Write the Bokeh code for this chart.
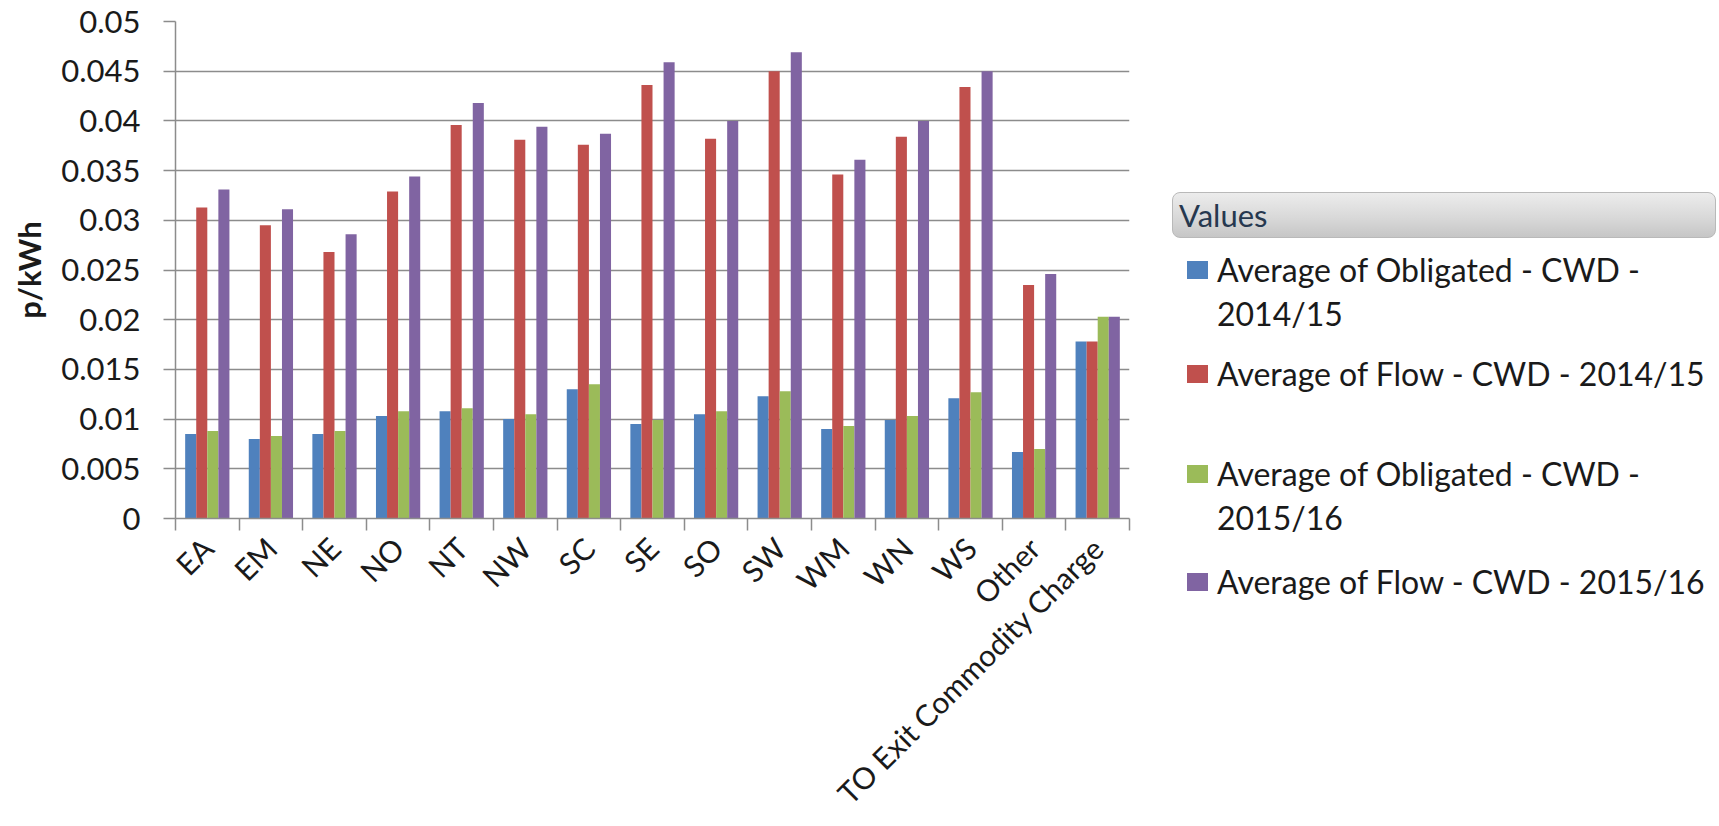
import numpy as np
from bokeh.plotting import figure
from bokeh.models import Range1d, FixedTicker, ColumnDataSource, Div
from bokeh.layouts import row
from bokeh.transform import dodge
from bokeh.embed import file_html
from bokeh.resources import INLINE

# ---- data -------------------------------------------------------------
regions = ["EA", "EM", "NE", "NO", "NT", "NW", "SC", "SE", "SO", "SW",
           "WM", "WN", "WS", "Other", "TO Exit Commodity Charge"]

obligated_2014_15 = [0.0085, 0.0080, 0.0085, 0.0103, 0.0108, 0.0100, 0.0130, 0.0095,
                     0.0105, 0.0123, 0.0090, 0.0099, 0.0121, 0.0067, 0.0178]
flow_2014_15 = [0.0313, 0.0295, 0.0268, 0.0329, 0.0396, 0.0381, 0.0376, 0.0436,
                0.0382, 0.0450, 0.0346, 0.0384, 0.0434, 0.0235, 0.0178]
obligated_2015_16 = [0.0088, 0.0083, 0.0088, 0.0108, 0.0111, 0.0105, 0.0135, 0.0099,
                     0.0108, 0.0128, 0.0093, 0.0103, 0.0127, 0.0070, 0.0203]
flow_2015_16 = [0.0331, 0.0311, 0.0286, 0.0344, 0.0418, 0.0394, 0.0387, 0.0459,
                0.0400, 0.0469, 0.0361, 0.0400, 0.0450, 0.0246, 0.0203]

series_names = ["Average of Obligated - CWD - 2014/15",
                "Average of Flow - CWD - 2014/15",
                "Average of Obligated - CWD - 2015/16",
                "Average of Flow - CWD - 2015/16"]

ytick_values = [0.0, 0.005, 0.01, 0.015, 0.02, 0.025, 0.03, 0.035, 0.04, 0.045, 0.05]
ytick_labels = ["0", "0.005", "0.01", "0.015", "0.02", "0.025", "0.03", "0.035",
                "0.04", "0.045", "0.05"]

y_title = "p/kWh"
legend_title = "Values"

# ---- styling ----------------------------------------------------------
COLORS = ["#4F81BD", "#C0504D", "#9BBB59", "#8064A2"]
GRID = "#8c8c8c"
TEXT = "#1a1a1a"
FONT = "Lato"

W_MAIN, W_LEG, H = 1160, 559, 826
FRAME_L, FRAME_R, FRAME_T, FRAME_B = 175, 1129, 21, 520

# ---- chart ------------------------------------------------------------
n = len(regions)
x_centers = np.arange(n) + 0.5
src = ColumnDataSource(dict(x=x_centers, s0=obligated_2014_15, s1=flow_2014_15,
                            s2=obligated_2015_16, s3=flow_2015_16))

p = figure(width=W_MAIN, height=H, output_backend="svg", toolbar_location=None,
           x_range=Range1d(0, n), y_range=Range1d(0, 0.05),
           min_border_left=FRAME_L, min_border_right=W_MAIN - FRAME_R,
           min_border_top=FRAME_T, min_border_bottom=H - FRAME_B)
p.outline_line_color = None
p.background_fill_color = "white"
p.border_fill_color = "white"

bar_w = 0.174
for i, (key, color) in enumerate(zip(["s0", "s1", "s2", "s3"], COLORS)):
    off = (i - 1.5) * bar_w
    p.vbar(x=dodge("x", off, range=p.x_range), top=key, width=bar_w, source=src,
           fill_color=color, line_color=None)

# x axis: labels at category centres, tick marks at category boundaries
xa = p.xaxis[0]
xa.ticker = FixedTicker(ticks=list(x_centers), minor_ticks=list(range(n + 1)))
xa.major_label_overrides = {float(c): r for c, r in zip(x_centers, regions)}
xa.major_label_orientation = np.pi / 4
xa.major_tick_line_color = None
xa.major_tick_in = 0
xa.major_tick_out = 0
xa.minor_tick_line_color = GRID
xa.minor_tick_line_width = 1.5
xa.minor_tick_in = 0
xa.minor_tick_out = 12
xa.major_label_standoff = 12
xa.axis_line_color = GRID
xa.axis_line_width = 1.5
xa.major_label_text_font = FONT
xa.major_label_text_font_size = "30px"
xa.major_label_text_color = TEXT

ya = p.yaxis[0]
ya.ticker = FixedTicker(ticks=ytick_values, minor_ticks=[])
ya.major_label_overrides = dict(zip(ytick_values, ytick_labels))
ya.major_tick_line_color = GRID
ya.major_tick_line_width = 1.5
ya.major_tick_in = 0
ya.major_tick_out = 12
ya.minor_tick_line_color = None
ya.major_label_standoff = 23
ya.axis_line_color = GRID
ya.axis_line_width = 1.5
ya.major_label_text_font = FONT
ya.major_label_text_font_size = "31px"
ya.major_label_text_color = TEXT
ya.axis_label = y_title
ya.axis_label_text_font = FONT
ya.axis_label_text_font_size = "31px"
ya.axis_label_text_font_style = "bold"
ya.axis_label_text_color = TEXT
ya.axis_label_standoff = 10

p.xgrid.grid_line_color = None
p.ygrid.grid_line_color = GRID
p.ygrid.grid_line_width = 1.5

# ---- legend panel beside the plot --------------------------------------
def wrap(label, limit=32):
    if len(label) <= limit:
        return [label]
    head, tail = label.rsplit(" ", 1)
    return [head, tail]


def abs_div(left, top, width, height, style="", content=""):
    return (f'<div style="position:absolute;left:{left}px;top:{top}px;'
            f'width:{width}px;height:{height}px;{style}">{content}</div>')


parts = [
    abs_div(12, 192, 544, 46,
            "box-sizing:border-box;border:1.5px solid #b9b9b9;border-radius:8px;"
            "background:linear-gradient(#ececec,#d9d9d9 55%,#c6c6c6);"),
    abs_div(19, 192, 300, 46,
            "line-height:46px;font-size:31px;color:#26384f;white-space:nowrap;",
            legend_title),
]

entry_y = [270, 374, 474, 582]
line_h = 44
for y0, name, color in zip(entry_y, series_names, COLORS):
    parts.append(abs_div(27, y0 - 9, 21, 18, f"background:{color};"))
    for j, line in enumerate(wrap(name)):
        parts.append(abs_div(57, y0 + j * line_h - 22, 500, 44,
                             f"line-height:44px;font-size:32px;color:{TEXT};"
                             "white-space:nowrap;", line))

legend_html = (f'<div style="position:relative;width:{W_LEG}px;height:{H}px;'
               f'font-family:{FONT},sans-serif;background:white;">'
               + "".join(parts) + "</div>")
legend = Div(text=legend_html, width=W_LEG, height=H, margin=0)

layout = row(p, legend, spacing=0)
open("out.html", "w").write(file_html(layout, INLINE))
